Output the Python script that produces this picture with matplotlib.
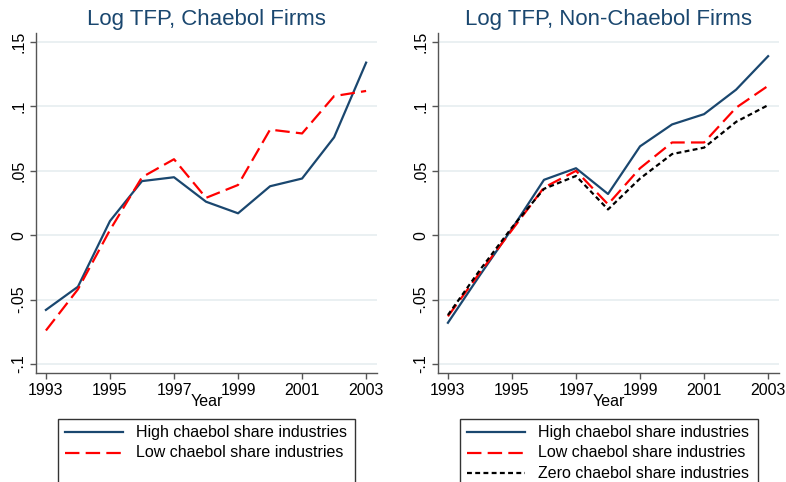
import matplotlib
matplotlib.use("Agg")
import matplotlib.pyplot as plt
from matplotlib.lines import Line2D
from matplotlib.patches import Rectangle

plt.rcParams['font.family'] = ['Liberation Sans', 'DejaVu Sans']

years = [1993, 1994, 1995, 1996, 1997, 1998, 1999, 2000, 2001, 2002, 2003]

# Left panel: chaebol firms
chaebol_high = [-0.058, -0.040, 0.011, 0.042, 0.045, 0.026, 0.017, 0.038, 0.044, 0.076, 0.134]
chaebol_low = [-0.074, -0.042, 0.004, 0.045, 0.059, 0.029, 0.039, 0.082, 0.079, 0.108, 0.112]

# Right panel: non-chaebol firms
non_high = [-0.068, -0.031, 0.005, 0.043, 0.052, 0.032, 0.069, 0.086, 0.094, 0.113, 0.139]
non_low = [-0.063, -0.029, 0.004, 0.037, 0.050, 0.024, 0.052, 0.072, 0.072, 0.099, 0.116]
non_zero = [-0.062, -0.027, 0.006, 0.036, 0.046, 0.020, 0.044, 0.063, 0.068, 0.088, 0.101]

titles = ["Log TFP, Chaebol Firms", "Log TFP, Non-Chaebol Firms"]
label_high = "High chaebol share industries"
label_low = "Low chaebol share industries"
label_zero = "Zero chaebol share industries"

yticks = [-0.1, -0.05, 0, 0.05, 0.1, 0.15]
ytick_labels = ["-.1", "-.05", "0", ".05", ".1", ".15"]
xticks = [1993, 1995, 1997, 1999, 2001, 2003]

W, H = 786, 482
fig = plt.figure(figsize=(W / 100, H / 100), dpi=100)
fig.patch.set_facecolor('white')

navy = '#1a476f'
red = '#ff0000'
grid_c = '#e6eef0'
spine_c = '#555555'

def fx(px):
    return px / W

def fy(py):
    return 1 - py / H

axes_px = [(36, 377), (438, 779)]
top_px, bot_px = 33, 373

axes = []
for (l, r) in axes_px:
    ax = fig.add_axes([fx(l), fy(bot_px), (r - l) / W, (bot_px - top_px) / H])
    axes.append(ax)

dash_red = (0, (6.5, 2.8))
dash_black = (0, (2.2, 1.5))

series = [
    [(chaebol_high, navy, '-', label_high), (chaebol_low, red, dash_red, label_low)],
    [(non_high, navy, '-', label_high), (non_low, red, dash_red, label_low),
     (non_zero, 'black', dash_black, label_zero)],
]

for ax, title, ser in zip(axes, titles, series):
    for vals, c, ls, lab in ser:
        ax.plot(years, vals, color=c, linestyle=ls, linewidth=1.6, label=lab)
    ax.set_xlim(1992.69, 2003.34)
    ax.set_ylim(-0.107, 0.157)
    ax.set_yticks(yticks)
    ax.set_yticklabels(ytick_labels, rotation=90, va='center')
    ax.set_xticks(xticks)
    ax.set_xticklabels([str(x) for x in xticks])
    ax.grid(axis='y', color=grid_c, linewidth=1.2)
    ax.set_axisbelow(True)
    for s in ['top', 'right']:
        ax.spines[s].set_visible(False)
    for s in ['left', 'bottom']:
        ax.spines[s].set_color(spine_c)
        ax.spines[s].set_linewidth(1.0)
    ax.tick_params(axis='both', direction='out', length=4, width=1, color=spine_c,
                   labelsize=11.5, labelcolor='black', pad=3)
    ax.set_xlabel("Year", fontsize=11.5, labelpad=-3)
    ax.set_title(title, fontsize=16, color=navy, pad=6)

# Legends (boxes extend past the bottom edge, as in the reference)
legend_boxes = [(58, 355), (460, 758)]
for (l, r), ser in zip(legend_boxes, series):
    rect = Rectangle((fx(l), fy(492)), (r - l) / W, (492 - 419) / H,
                     transform=fig.transFigure, fill=False, edgecolor='#333333',
                     linewidth=1.0, clip_on=False)
    fig.add_artist(rect)
    for i, (vals, c, ls, lab) in enumerate(ser):
        yy = 432 + 20.5 * i
        fig.add_artist(Line2D([fx(l + 7), fx(l + 65)], [fy(yy), fy(yy)],
                              transform=fig.transFigure, color=c, linestyle=ls,
                              linewidth=1.6))
        fig.text(fx(l + 78), fy(yy), lab, fontsize=11.5, va='center', ha='left')

fig.savefig("out.png", dpi=100, facecolor='white')
